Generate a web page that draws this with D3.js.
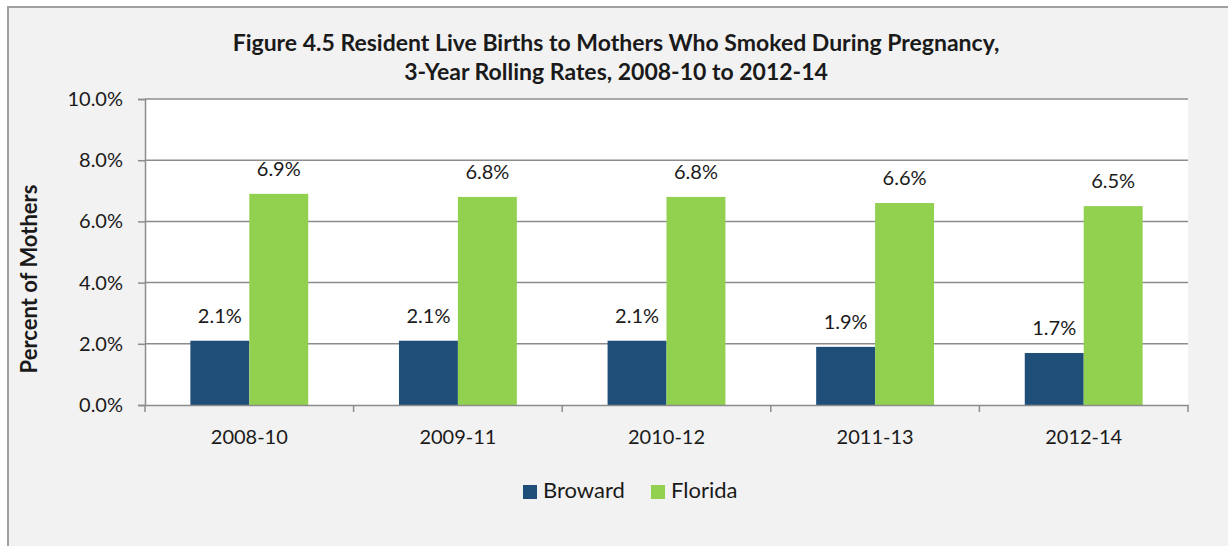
<!DOCTYPE html>
<html>
<head>
<meta charset="utf-8">
<script src="https://cdn.jsdelivr.net/npm/d3@7"></script>
<style>
  body { margin: 0; background: #fff; }
  svg { display: block; font-family: Lato, "Open Sans", sans-serif; }
</style>
</head>
<body>
<svg width="1228" height="546"></svg>
<script>
var periods = ["2008-10", "2009-11", "2010-12", "2011-13", "2012-14"];
var seriesNames = ["Broward", "Florida"];
var broward = [2.1, 2.1, 2.1, 1.9, 1.7];
var florida = [6.9, 6.8, 6.8, 6.6, 6.5];
var yTicks = [0, 2, 4, 6, 8, 10];
var colors = ["#1f4e79", "#92d050"];

var svg = d3.select("svg");

// chart panel
svg.append("rect")
  .attr("x", 8).attr("y", 7)
  .attr("width", 1240).attr("height", 560)
  .attr("fill", "#f2f2f2")
  .attr("stroke", "#a0a0a0")
  .attr("stroke-width", 2);

var plot = { left: 145, right: 1188, top: 99, bottom: 405 };

var x = d3.scaleBand()
  .domain(periods)
  .range([plot.left, plot.right]);

var xs = d3.scaleBand()
  .domain(seriesNames)
  .range([0, x.bandwidth()])
  .paddingInner(0)
  .paddingOuter(0.77);

var y = d3.scaleLinear()
  .domain([0, 10])
  .range([plot.bottom, plot.top]);

svg.append("rect")
  .attr("x", plot.left).attr("y", plot.top)
  .attr("width", plot.right - plot.left)
  .attr("height", plot.bottom - plot.top)
  .attr("fill", "#fff");

// gridlines
svg.append("g")
  .selectAll("line")
  .data(yTicks.slice(1))
  .join("line")
  .attr("x1", plot.left).attr("x2", plot.right)
  .attr("y1", d => y(d)).attr("y2", d => y(d))
  .attr("stroke", "#8c8c8c")
  .attr("stroke-width", 1.5);

// bars
var rows = periods.map((p, i) => ({ period: p, values: [broward[i], florida[i]] }));

var groups = svg.append("g")
  .selectAll("g")
  .data(rows)
  .join("g")
  .attr("transform", d => "translate(" + x(d.period) + ",0)");

groups.selectAll("rect")
  .data(d => d.values.map((v, j) => ({ name: seriesNames[j], value: v, j: j })))
  .join("rect")
  .attr("x", d => xs(d.name))
  .attr("width", xs.bandwidth())
  .attr("y", d => y(d.value))
  .attr("height", d => y(0) - y(d.value))
  .attr("fill", d => colors[d.j]);

groups.selectAll("text")
  .data(d => d.values.map((v, j) => ({ name: seriesNames[j], value: v })))
  .join("text")
  .attr("x", d => xs(d.name) + xs.bandwidth() / 2)
  .attr("y", d => y(d.value) - 18)
  .attr("text-anchor", "middle")
  .attr("font-size", 20)
  .attr("fill", "#1a1a1a")
  .text(d => d.value.toFixed(1) + "%");

// y axis
var yAxis = svg.append("g")
  .attr("transform", "translate(" + plot.left + ",0)")
  .call(d3.axisLeft(y).tickValues(yTicks).tickSize(7).tickPadding(15)
    .tickFormat(d => d.toFixed(1) + "%"));
yAxis.select(".domain").attr("stroke", "#8c8c8c").attr("stroke-width", 1.5);
yAxis.selectAll(".tick line").attr("stroke", "#8c8c8c").attr("stroke-width", 1.5);
yAxis.selectAll(".tick text")
  .attr("font-size", 20)
  .attr("font-family", "Lato, sans-serif")
  .attr("fill", "#1a1a1a");

// x axis
var xAxis = svg.append("g")
  .attr("transform", "translate(0," + plot.bottom + ")")
  .call(d3.axisBottom(x).tickSize(0).tickPadding(25));
xAxis.select(".domain").attr("stroke", "#8c8c8c").attr("stroke-width", 1.5);
xAxis.selectAll(".tick text")
  .attr("font-size", 20)
  .attr("font-family", "Lato, sans-serif")
  .attr("fill", "#1a1a1a");

// category boundary ticks
var bounds = periods.map(p => x(p)).concat([plot.right]);
svg.append("g")
  .selectAll("line")
  .data(bounds)
  .join("line")
  .attr("x1", d => d).attr("x2", d => d)
  .attr("y1", plot.bottom).attr("y2", plot.bottom + 7)
  .attr("stroke", "#8c8c8c")
  .attr("stroke-width", 1.5);

// title
svg.append("text")
  .attr("x", 616).attr("y", 51)
  .attr("text-anchor", "middle")
  .attr("font-size", 23)
  .attr("font-weight", "bold")
  .attr("fill", "#1a1a1a")
  .text("Figure 4.5 Resident Live Births to Mothers Who Smoked During Pregnancy,");
svg.append("text")
  .attr("x", 616).attr("y", 80)
  .attr("text-anchor", "middle")
  .attr("font-size", 23)
  .attr("font-weight", "bold")
  .attr("fill", "#1a1a1a")
  .text("3-Year Rolling Rates, 2008-10 to 2012-14");

// y axis title
svg.append("text")
  .attr("transform", "translate(37,279) rotate(-90)")
  .attr("text-anchor", "middle")
  .attr("font-size", 22)
  .attr("font-weight", "bold")
  .attr("fill", "#1a1a1a")
  .text("Percent of Mothers");

// legend
var legendX = [523, 651];
var legend = svg.append("g")
  .selectAll("g")
  .data(seriesNames)
  .join("g")
  .attr("transform", (d, i) => "translate(" + legendX[i] + ",485)");
legend.append("rect")
  .attr("width", 14).attr("height", 14)
  .attr("fill", (d, i) => colors[i]);
legend.append("text")
  .attr("x", 20).attr("y", 13)
  .attr("font-size", 22)
  .attr("fill", "#1a1a1a")
  .text(d => d);
</script>
</body>
</html>
